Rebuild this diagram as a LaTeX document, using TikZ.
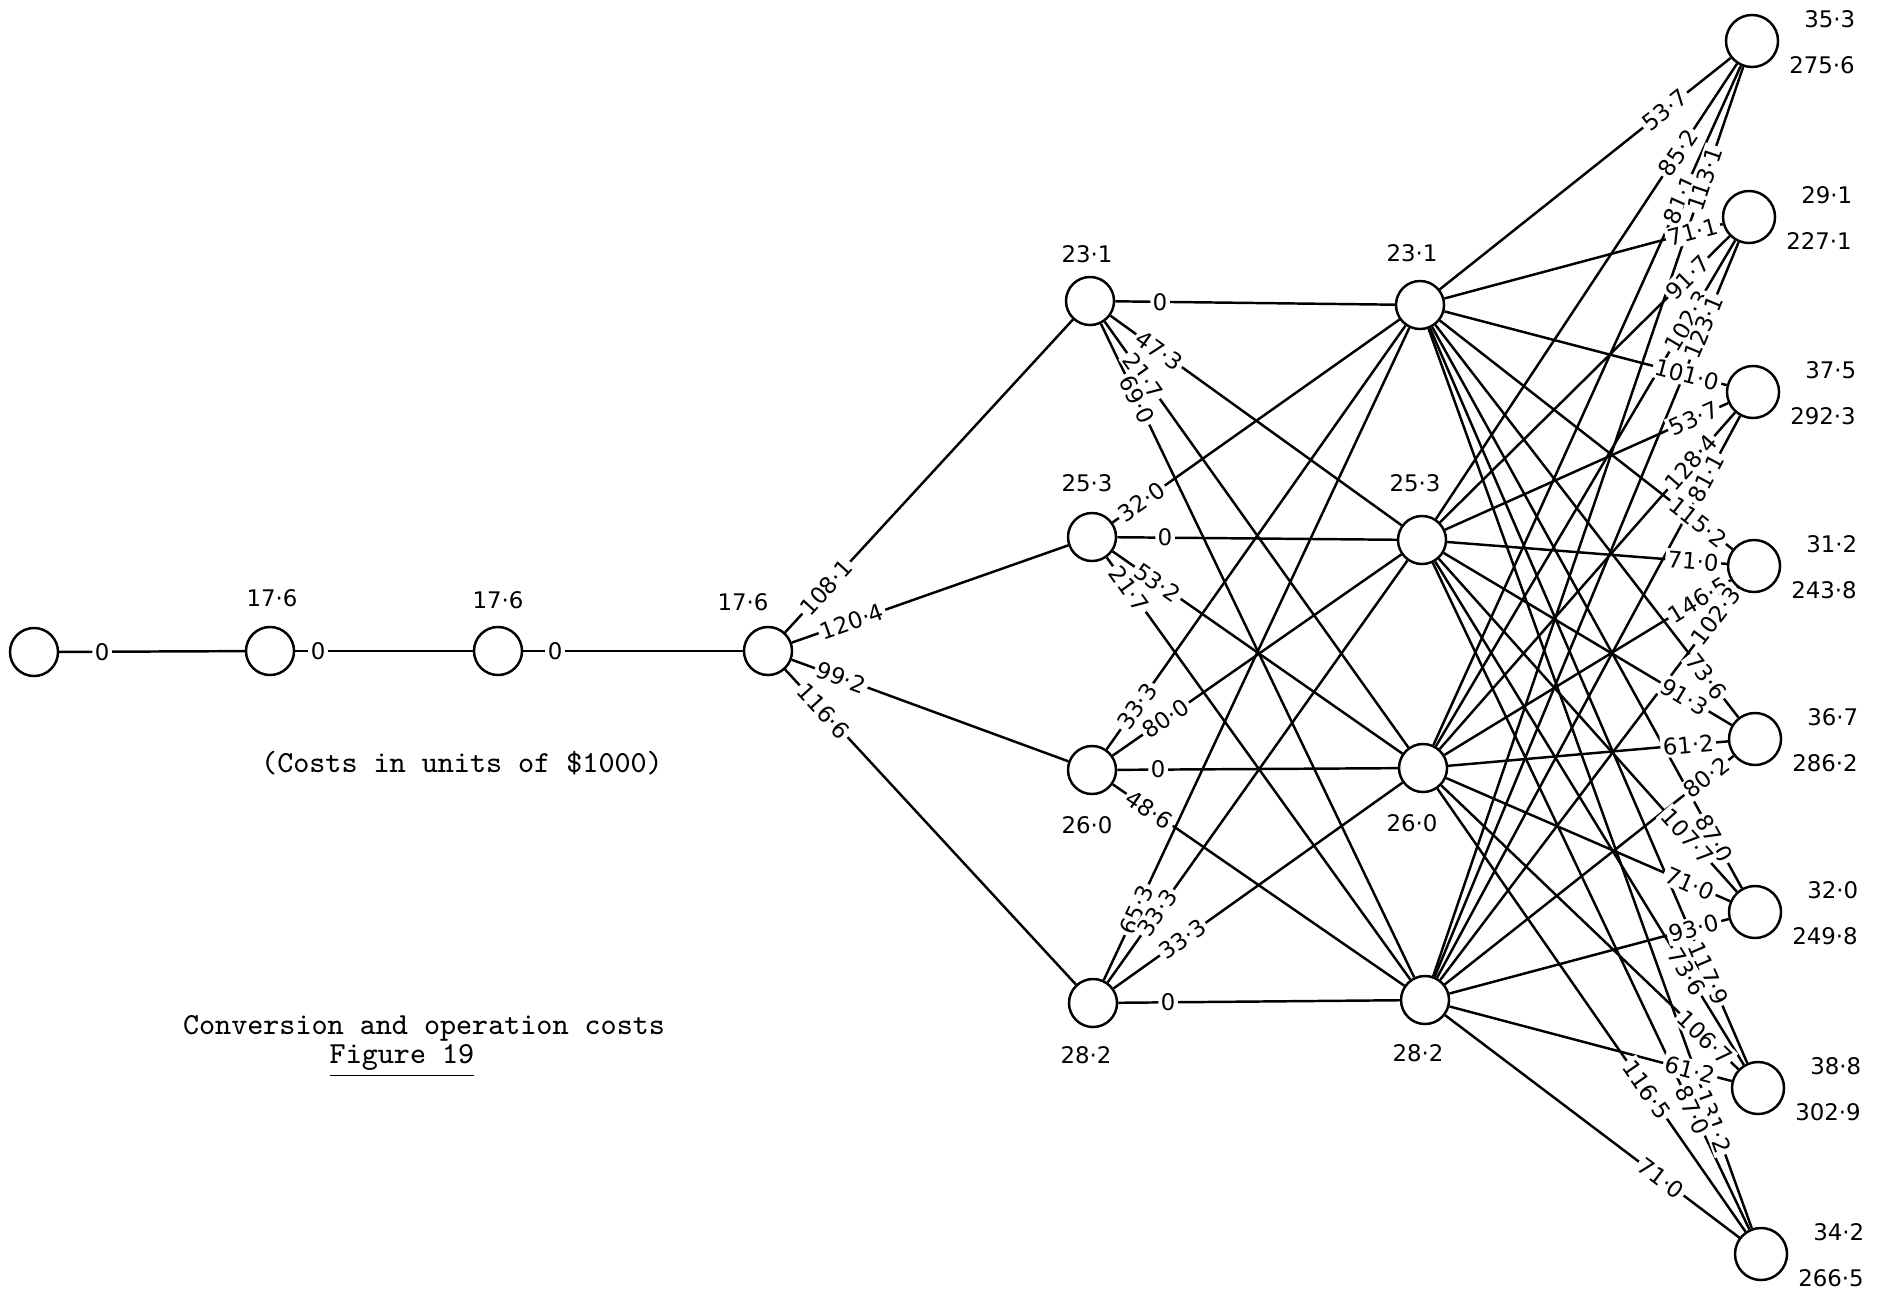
\documentclass[tikz,border=0pt]{standalone}
\usepackage{fontspec}
\setsansfont{DejaVu Sans}
\usetikzlibrary{calc,positioning}

% start/end/cost/label distance from the start node
\newcommand{\chainedges}{A0/A1/0/0.68cm, A1/A2/0/0.48cm, A2/A3/0/0.57cm,
  A3/B1/108·1/0.86cm, A3/B2/120·4/0.89cm, A3/B3/99·2/0.78cm, A3/B4/116·6/0.82cm,
  B1/C1/0/0.70cm, B1/C2/47·3/0.85cm, B1/C3/21·7/0.92cm, B1/C4/69·0/1.09cm,
  B2/C1/32·0/0.61cm, B2/C2/0/0.73cm, B2/C3/53·2/0.80cm, B2/C4/21·7/0.64cm,
  B3/C1/33·3/0.78cm, B3/C2/80·0/0.90cm, B3/C3/0/0.66cm, B3/C4/48·6/0.70cm,
  B4/C1/65·3/1.03cm, B4/C2/33·3/1.11cm, B4/C3/33·3/1.10cm, B4/C4/0/0.75cm}
% last stage: label distance measured from the end node
\newcommand{\finaledges}{
  C1/D1/53·7/1.11cm, C2/D1/85·2/1.34cm, C3/D1/81·1/1.74cm, C4/D1/113·1/1.46cm,
  C1/D2/71·1/0.58cm, C2/D2/91·7/0.86cm, C3/D2/102·3/1.21cm, C4/D2/123·1/1.19cm,
  C1/D3/101·0/0.68cm, C2/D3/53·7/0.65cm, C3/D3/128·4/0.94cm, C4/D3/81·1/0.98cm,
  C1/D4/115·2/0.71cm, C2/D4/71·0/0.61cm, C3/D4/146·5/0.65cm, C4/D4/102·3/0.63cm,
  C1/D5/73·6/0.79cm, C2/D5/91·3/0.82cm, C3/D5/61·2/0.67cm, C4/D5/80·2/0.62cm,
  C1/D6/87·0/0.84cm, C2/D6/107·7/1.01cm, C3/D6/71·0/0.71cm, C4/D6/93·0/0.63cm,
  C1/D7/117·9/1.25cm, C2/D7/73·6/1.36cm, C3/D7/106·7/0.73cm, C4/D7/61·2/0.70cm,
  C1/D8/131·2/1.41cm, C2/D8/87·0/1.59cm, C3/D8/116·5/2.00cm, C4/D8/71·0/1.25cm}

\begin{document}
\begin{tikzpicture}[
  x=0.01cm, y=-0.01cm, line width=0.7pt,
  stn/.style={circle, draw, minimum size=0.48cm, inner sep=0pt},
  endstn/.style={stn, minimum size=0.52cm},
  vlab/.style={font=\sffamily\fontsize{6.5}{8}\selectfont, inner sep=0pt},
  lbl/.style={font=\sffamily\fontsize{6.5}{8}\selectfont, fill=white, inner sep=0.7pt},
  captxt/.style={font=\ttfamily\fontsize{8.7}{10}\selectfont, inner sep=0pt}
]
  \useasboundingbox (0,0) rectangle (1880,1294);

  % =============================================================
  % Stations
  % =============================================================
  \node[stn] (A0) at (34,652) {};
  \node[stn] (A1) at (270,651) {};
  \node[stn] (A2) at (498,651) {};
  \node[stn] (A3) at (768,651) {};
  \node[vlab] (lA1) at (272,598) {17·6};
  \node[vlab] (lA2) at (498,600) {17·6};
  \node[vlab] (lA3) at (743,602) {17·6};

  % second stage
  \node[stn] (B1) at (1090,301) {};
  \node[stn] (B2) at (1092,537) {};
  \node[stn] (B3) at (1092,770) {};
  \node[stn] (B4) at (1093,1003) {};
  \node[vlab] (lB1) at (1087,254) {23·1};
  \node[vlab] (lB2) at (1087,483) {25·3};
  \node[vlab] (lB3) at (1087,825) {26·0};
  \node[vlab] (lB4) at (1086,1055) {28·2};

  % third stage
  \node[stn] (C1) at (1420,305) {};
  \node[stn] (C2) at (1422,540) {};
  \node[stn] (C3) at (1423,768) {};
  \node[stn] (C4) at (1425,1000) {};
  \node[vlab] (lC1) at (1412,253) {23·1};
  \node[vlab] (lC2) at (1415,483) {25·3};
  \node[vlab] (lC3) at (1412,823) {26·0};
  \node[vlab] (lC4) at (1418,1053) {28·2};

  % end stations with their two values
  \foreach \i/\x/\y/\up/\lo in {1/1752/41/35·3/275·6, 2/1749/217/29·1/227·1,
      3/1753/392/37·5/292·3, 4/1754/566/31·2/243·8, 5/1755/739/36·7/286·2,
      6/1755/912/32·0/249·8, 7/1758/1088/38·8/302·9, 8/1761/1254/34·2/266·5}{
    \node[endstn] (D\i) at (\x,\y) {};
    \node[vlab, anchor=west] (uD\i) at ([shift={(51,-22)}]D\i.center) {\up};
    \node[vlab, anchor=west] (bD\i) at ([shift={(36,24)}]D\i.center) {\lo};
  }

  % =============================================================
  % Connections (lines first, cost labels on top)
  % =============================================================
  \foreach \src/\dst/\txt/\dist in \chainedges
    \draw (\src) -- (\dst);
  \foreach \src/\dst/\txt/\dist in \finaledges
    \draw (\src) -- (\dst);

  \foreach \src/\dst/\txt/\dist in \chainedges
    \path let \p1=($(\dst)-(\src)$), \n1={atan2(\y1,\x1)} in
      node[lbl, rotate=\n1] (w\src\dst) at ($(\src)!\dist!(\dst)$) {\txt};
  \foreach \src/\dst/\txt/\dist in \finaledges
    \path let \p1=($(\dst)-(\src)$), \n1={atan2(\y1,\x1)} in
      node[lbl, rotate=\n1] (w\src\dst) at ($(\dst)!\dist!(\src)$) {\txt};

  % =============================================================
  % Captions
  % =============================================================
  \node[captxt] (units) at (462,763) {(Costs in units of \$1000)};
  \node[captxt] (title) at (424,1028) {Conversion and operation costs};
  \node[captxt] (fig) at (402,1061) {\underline{Figure 19}};
\end{tikzpicture}
\end{document}
